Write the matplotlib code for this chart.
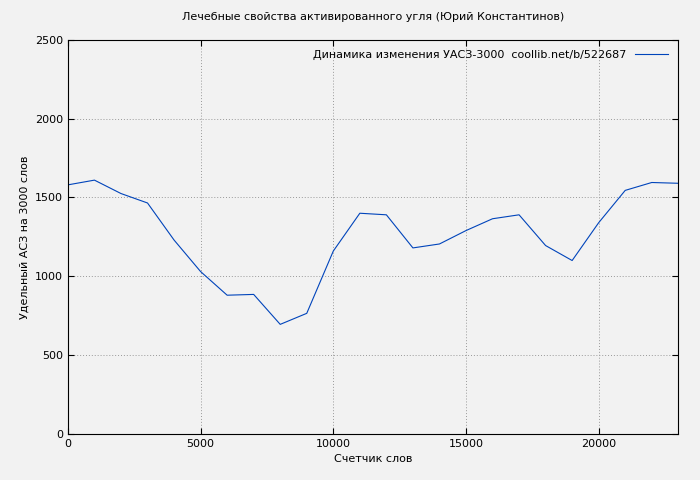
import matplotlib
matplotlib.use("Agg")
import matplotlib.pyplot as plt

words = [0, 1000, 2000, 3000, 4000, 5000, 6000, 7000, 8000, 9000, 10000, 11000,
         12000, 13000, 14000, 15000, 16000, 17000, 18000, 19000, 20000, 21000, 22000, 23000]
uasz = [1580, 1610, 1525, 1465, 1230, 1030, 880, 885, 695, 765, 1160, 1400,
        1390, 1180, 1205, 1290, 1365, 1390, 1195, 1100, 1340, 1545, 1595, 1590]

plt.rcParams["font.family"] = "DejaVu Sans"
plt.rcParams["font.size"] = 8

fig = plt.figure(figsize=(7, 4.8), dpi=100, facecolor="#f2f2f2")
ax = fig.add_axes([0.097, 0.096, 0.872, 0.821], facecolor="#f2f2f2")
ax.plot(words, uasz, color="#0044bb", linewidth=0.8,
        label="Динамика изменения УАСЗ-3000  coollib.net/b/522687")
ax.set_xlim(0, 23000)
ax.set_ylim(0, 2500)
ax.set_xticks(range(0, 23000, 5000))
ax.set_yticks(range(0, 2501, 500))
ax.grid(True, color="#999999", linestyle=(0, (1, 2)), linewidth=0.7)
ax.tick_params(direction="in", length=4, top=True, right=True)
for s in ax.spines.values():
    s.set_color("black")
    s.set_linewidth(0.8)
ax.set_title("Лечебные свойства активированного угля (Юрий Константинов)", fontsize=8, pad=14)
ax.set_xlabel("Счетчик слов")
ax.set_ylabel("Удельный АСЗ на 3000 слов")
leg = ax.legend(loc="upper right", frameon=False, markerfirst=False, handlelength=3)
fig.savefig("out.png", facecolor=fig.get_facecolor())
